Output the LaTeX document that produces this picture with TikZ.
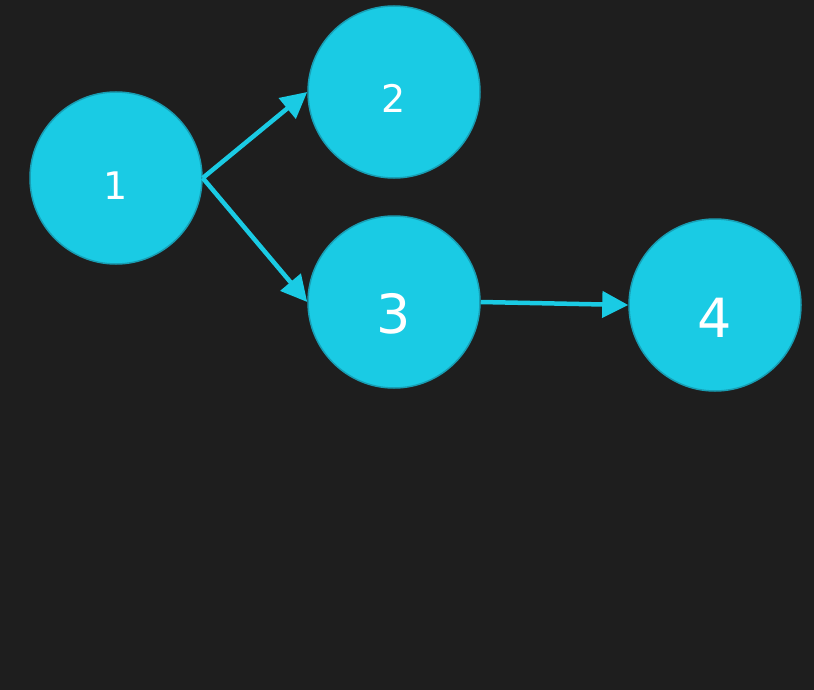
\documentclass[tikz,border=0pt]{standalone}
\usepackage{fontspec}
\setmainfont{DejaVu Sans}
\usetikzlibrary{arrows.meta}
\definecolor{boardBg}{RGB}{30,30,30}
\definecolor{nodeFill}{RGB}{26,203,228}
\definecolor{nodeRim}{RGB}{24,158,180}
\tikzset{
	vertex/.style={circle, draw=nodeRim, fill=nodeFill, line width=1.5pt, minimum size=172pt, inner sep=0pt},
	smallDigit/.style={text=white, font=\fontsize{38}{40}\selectfont},
	bigDigit/.style={text=white, font=\fontsize{54}{58}\selectfont},
	edge/.style={draw=nodeFill, line width=4.5pt, -{Triangle[length=26pt,width=26pt]}}
}
\begin{document}
\begin{tikzpicture}[x=1pt, y=-1pt]
	\fill[boardBg] (0,0) rectangle (814,690);
	\useasboundingbox (0,0) rectangle (814,690);

	\node[vertex, label={[smallDigit, yshift=-8pt]center:1}](n1) at (116,178){};
	\node[vertex, label={[smallDigit, yshift=-6pt]center:2}](n2) at (394,92){};
	\node[vertex, label={[bigDigit, yshift=-12pt]center:3}](n3) at (394,302){};
	\node[vertex, label={[bigDigit, yshift=-13pt]center:4}](n4) at (715,305){};

	\draw[edge] (n1.east) -- (n2.west);
	\draw[edge] (n1.east) -- (n3.west);
	\draw[edge] (n3.east) -- (n4.west);
\end{tikzpicture}
\end{document}
